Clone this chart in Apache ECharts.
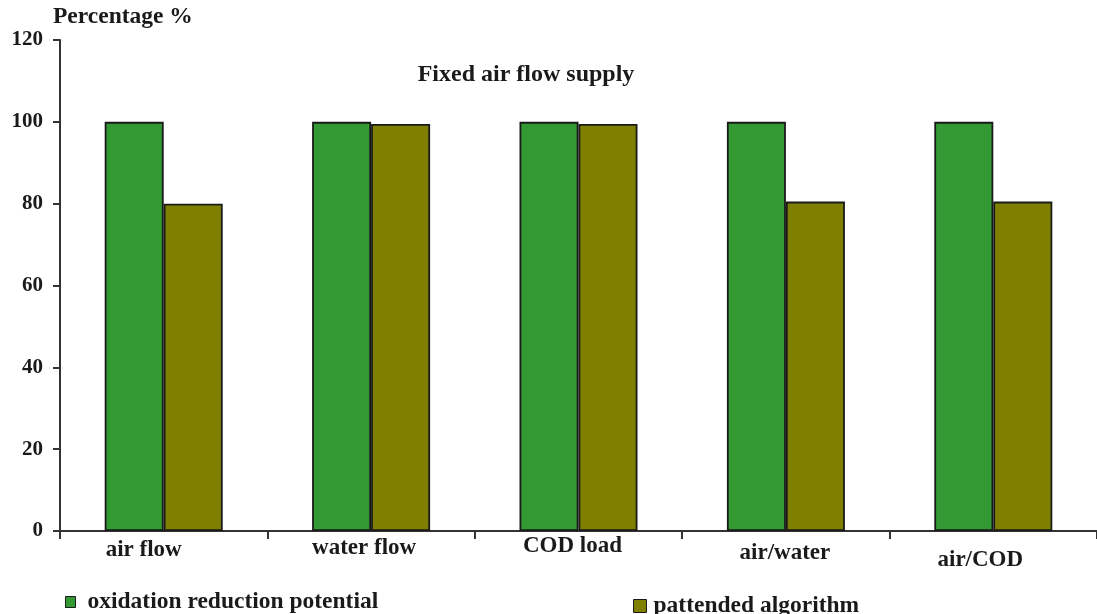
<!DOCTYPE html>
<html>
<head>
<meta charset="utf-8">
<script src="https://cdn.jsdelivr.net/npm/echarts@6/dist/echarts.min.js"></script>
<style>
  html, body { margin: 0; padding: 0; background: #fff; }
  #chart { width: 1097px; height: 614px; }
</style>
</head>
<body>
<div id="chart"></div>
<script>
// Categories and the two series (percentage values)
const categories = ['air flow', 'water flow', 'COD load', 'air/water', 'air/COD'];
const orpValues = [100, 100, 100, 100, 100];
const algoValues = [80, 99.5, 99.5, 80.5, 80.5];
const seriesNames = ['oxidation reduction potential', 'pattended algorithm'];
const yTicks = { min: 0, max: 120, interval: 20 };

// Staggered placement of the category labels: [top padding, right padding]
const labelPads = [[4, 40], [2, 14], [0, 12], [7, 2], [14, 26]];

const serif = '"Liberation Serif", "DejaVu Serif", serif';
const ink = '#1a1a1a';

const chart = echarts.init(document.getElementById('chart'));
chart.setOption({
  animation: false,
  backgroundColor: '#ffffff',
  textStyle: { fontFamily: serif },
  title: [
    {
      text: 'Fixed air flow supply',
      left: 521, top: 58, textAlign: 'center',
      textStyle: { fontFamily: serif, fontWeight: 'bold', fontSize: 24, color: ink }
    },
    {
      text: 'Percentage %',
      left: 53, top: 5, padding: 0,
      textStyle: { fontFamily: serif, fontWeight: 'bold', fontSize: 23.5, color: ink }
    }
  ],
  legend: [
    {
      data: [seriesNames[0]], left: 65, top: 590, padding: 0,
      itemWidth: 10, itemHeight: 11, icon: 'rect',
      itemStyle: { borderColor: ink, borderWidth: 1 },
      textStyle: { fontFamily: serif, fontWeight: 'bold', fontSize: 23.5, color: ink, padding: [0, 0, 12, 7] }
    },
    {
      data: [seriesNames[1]], left: 633, top: 594, padding: 0,
      itemWidth: 13, itemHeight: 13, icon: 'rect',
      itemStyle: { borderColor: ink, borderWidth: 1 },
      textStyle: { fontFamily: serif, fontWeight: 'bold', fontSize: 23.5, color: ink, padding: [0, 0, 4, 2] }
    }
  ],
  grid: { left: 60, right: -5, top: 40, bottom: 83, containLabel: false },
  xAxis: {
    type: 'category',
    data: categories.map((c, i) => ({
      value: c,
      textStyle: { padding: [labelPads[i][0], labelPads[i][1], 0, 0] }
    })),
    axisLine: { lineStyle: { color: '#333', width: 2 } },
    axisTick: { show: true, length: 8, lineStyle: { color: '#333', width: 2 } },
    axisLabel: { fontFamily: serif, fontWeight: 'bold', fontSize: 23, color: ink, margin: 4, interval: 0 }
  },
  yAxis: {
    type: 'value',
    min: yTicks.min, max: yTicks.max, interval: yTicks.interval,
    axisLine: { show: true, lineStyle: { color: '#333', width: 2 } },
    axisTick: { show: true, length: 7, lineStyle: { color: '#333', width: 2 } },
    splitLine: { show: false },
    axisLabel: { fontFamily: serif, fontWeight: 'bold', fontSize: 21, color: ink, margin: 17 }
  },
  series: [
    {
      name: seriesNames[0], type: 'bar', data: orpValues,
      barWidth: 59, barGap: '0%',
      itemStyle: { color: '#339933', borderColor: ink, borderWidth: 1.8 }
    },
    {
      name: seriesNames[1], type: 'bar', data: algoValues,
      barWidth: 59, barGap: '0%',
      itemStyle: { color: '#808000', borderColor: ink, borderWidth: 1.8 }
    }
  ]
});
</script>
</body>
</html>
